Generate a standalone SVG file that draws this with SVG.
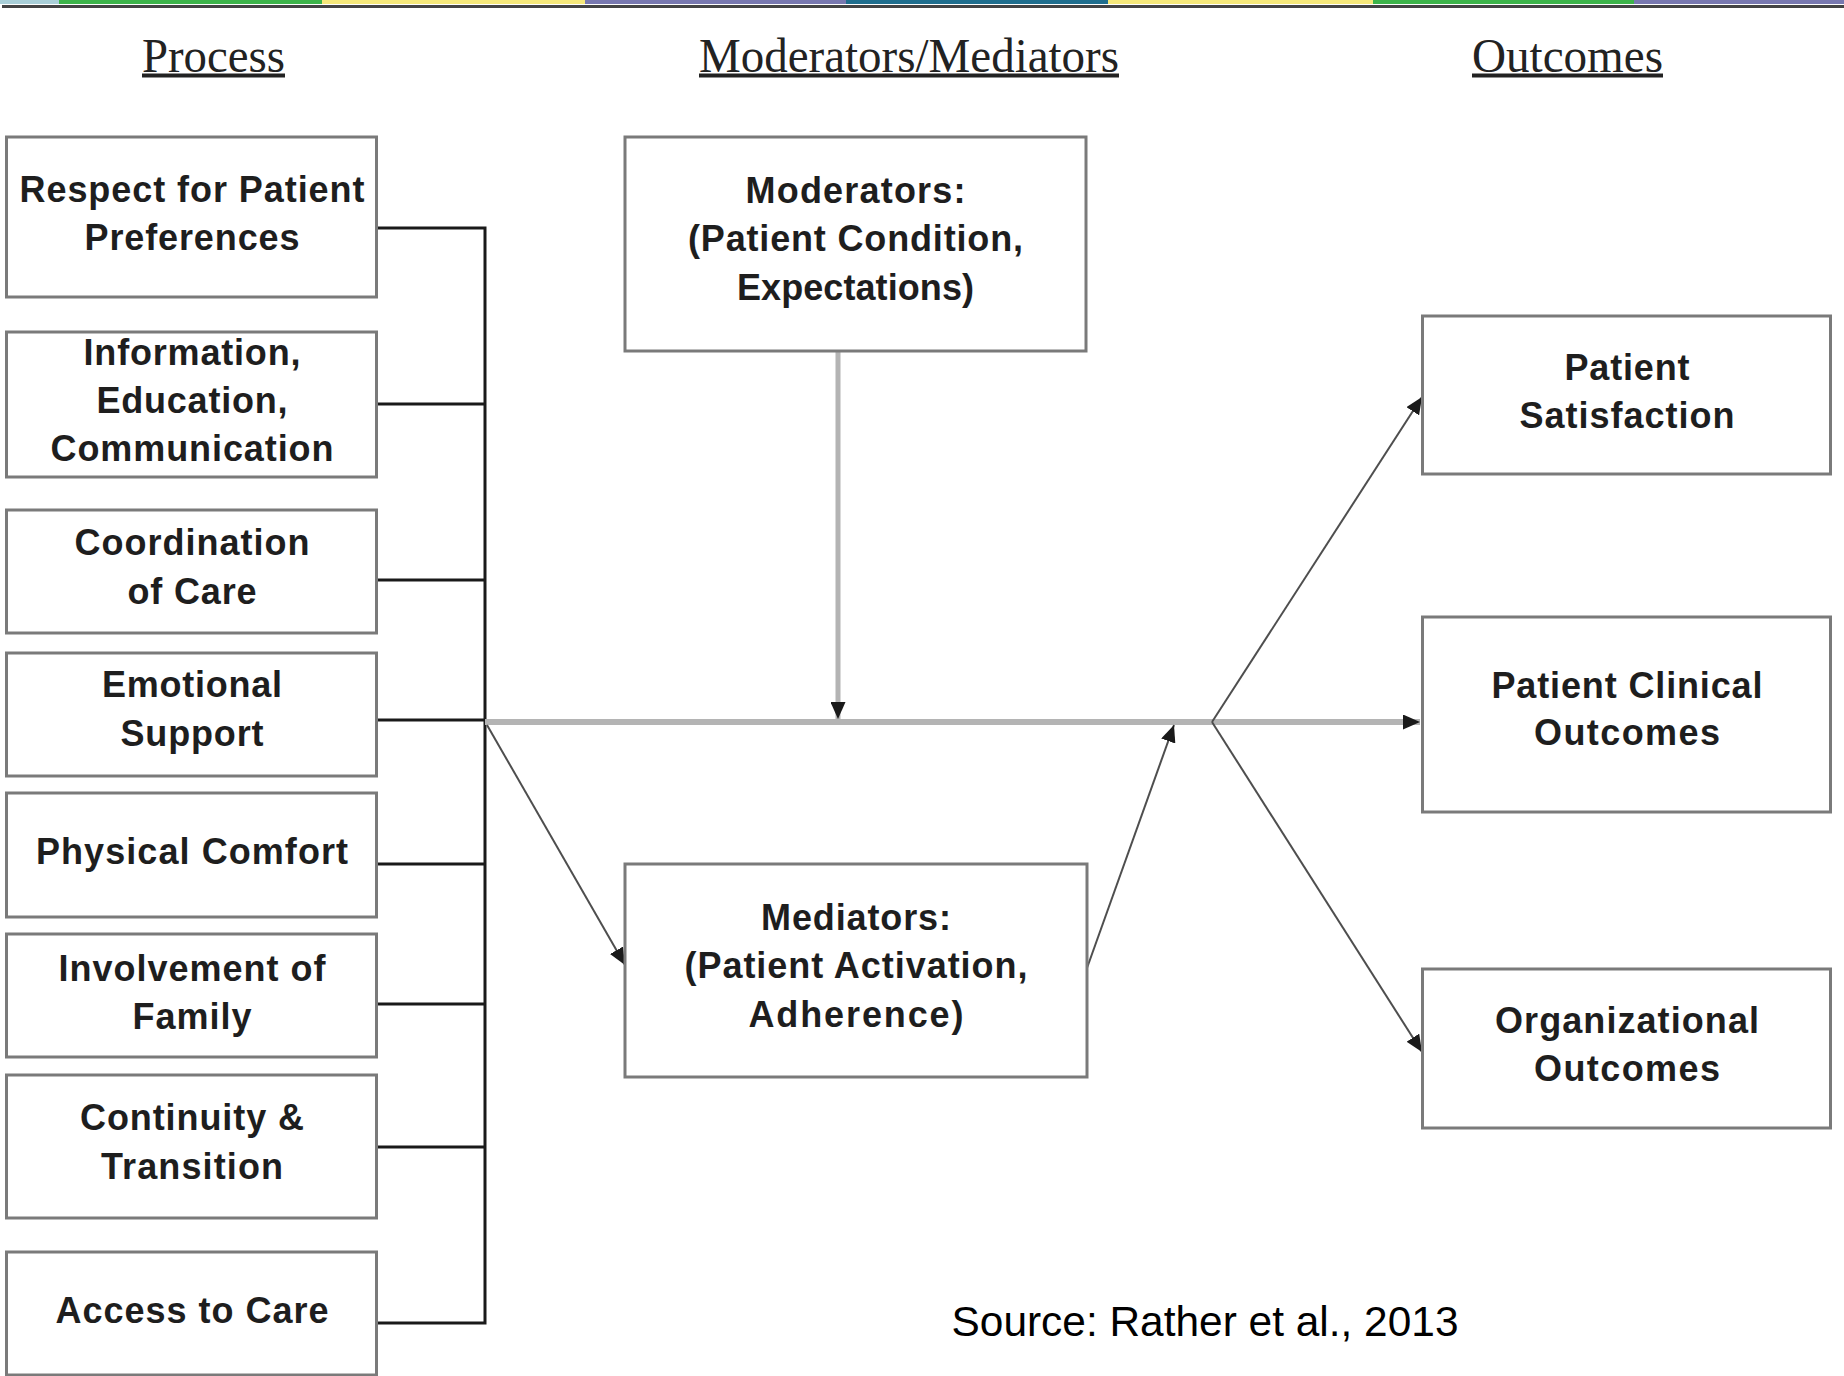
<svg xmlns="http://www.w3.org/2000/svg" width="1844" height="1376" viewBox="0 0 1844 1376">
<style>
.box{fill:#fff;stroke:#7a7a7a;stroke-width:3}
.t{font-family:"Liberation Sans",Arial,sans-serif;font-weight:bold;font-size:36px;fill:#1e1e1e;text-anchor:middle}
.h{font-family:"Liberation Serif","Times New Roman",serif;font-size:48px;fill:#222;text-anchor:middle}
.bus{stroke:#1a1a1a;stroke-width:3;fill:none}
.main{stroke:#b4b4b4;stroke-width:6;fill:none}
.vert{stroke:#b4b4b4;stroke-width:5;fill:none}
.thin{stroke:#4e4e4e;stroke-width:2;fill:none}
</style>
<defs>
<marker id="ah" markerUnits="userSpaceOnUse" markerWidth="17" markerHeight="15" refX="17" refY="7.5" orient="auto">
<path d="M0,0 L17,7.5 L0,15 z" fill="#1a1a1a"/>
</marker>
</defs>
<rect width="1844" height="1376" fill="#fff"/>
<g id="topbar">
<rect x="0" y="0" width="59" height="4" fill="#a9cfd8"/>
<rect x="59" y="0" width="263" height="4" fill="#3cb44a"/>
<rect x="322" y="0" width="263" height="4" fill="#f5e87a"/>
<rect x="585" y="0" width="261" height="4" fill="#7878b0"/>
<rect x="846" y="0" width="262" height="4" fill="#1f6e8e"/>
<rect x="1108" y="0" width="265" height="4" fill="#f5e87a"/>
<rect x="1373" y="0" width="261" height="4" fill="#3cb44a"/>
<rect x="1634" y="0" width="210" height="4" fill="#7878b0"/>
<rect x="2" y="5" width="1842" height="3" fill="#444"/>
</g>
<g id="headers">
<text class="h" x="213.5" y="72" textLength="143" lengthAdjust="spacingAndGlyphs">Process</text>
<rect x="142" y="73.5" width="143" height="4" fill="#222"/>
<text class="h" x="909" y="72" textLength="420" lengthAdjust="spacingAndGlyphs">Moderators/Mediators</text>
<rect x="699" y="73.5" width="420" height="4" fill="#222"/>
<text class="h" x="1567.5" y="72" textLength="191" lengthAdjust="spacingAndGlyphs">Outcomes</text>
<rect x="1472" y="73.5" width="191" height="4" fill="#222"/>
</g>
<g id="connectors">
<path class="bus" d="M378,228 H485 M378,404 H485 M378,580 H485 M378,720 H485 M378,864 H485 M378,1004 H485 M378,1147 H485 M378,1323 H485 M485,226.5 V1324.5"/>
<line class="main" x1="485" y1="722" x2="1420" y2="722" marker-end="url(#ah)"/>
<line class="vert" x1="838" y1="351" x2="838" y2="719" marker-end="url(#ah)"/>
<line class="thin" x1="487" y1="725" x2="625" y2="965" marker-end="url(#ah)"/>
<line class="thin" x1="1087" y1="968" x2="1174" y2="725" marker-end="url(#ah)"/>
<line class="thin" x1="1212" y1="722" x2="1422" y2="397" marker-end="url(#ah)"/>
<line class="thin" x1="1212" y1="722" x2="1422" y2="1052" marker-end="url(#ah)"/>
</g>
<g id="n1"><rect class="box" x="6.5" y="137" width="370" height="160"/>
<text class="t" x="192" y="202" textLength="345" lengthAdjust="spacing">Respect for Patient</text>
<text class="t" x="192" y="250" textLength="215" lengthAdjust="spacing">Preferences</text></g>
<g id="n2"><rect class="box" x="6.5" y="332" width="370" height="145"/>
<text class="t" x="192" y="365" textLength="217" lengthAdjust="spacing">Information,</text>
<text class="t" x="192" y="413" textLength="191" lengthAdjust="spacing">Education,</text>
<text class="t" x="192" y="461" textLength="283" lengthAdjust="spacing">Communication</text></g>
<g id="n3"><rect class="box" x="6.5" y="510" width="370" height="123"/>
<text class="t" x="192" y="555" textLength="235" lengthAdjust="spacing">Coordination</text>
<text class="t" x="192" y="604" textLength="129" lengthAdjust="spacing">of Care</text></g>
<g id="n4"><rect class="box" x="6.5" y="653" width="370" height="123"/>
<text class="t" x="192" y="697" textLength="180" lengthAdjust="spacing">Emotional</text>
<text class="t" x="192" y="746" textLength="143" lengthAdjust="spacing">Support</text></g>
<g id="n5"><rect class="box" x="6.5" y="793" width="370" height="124"/>
<text class="t" x="192" y="864" textLength="312" lengthAdjust="spacing">Physical Comfort</text></g>
<g id="n6"><rect class="box" x="6.5" y="934" width="370" height="123"/>
<text class="t" x="192" y="981" textLength="267" lengthAdjust="spacing">Involvement of</text>
<text class="t" x="192" y="1029" textLength="119" lengthAdjust="spacing">Family</text></g>
<g id="n7"><rect class="box" x="6.5" y="1075" width="370" height="143"/>
<text class="t" x="192" y="1130" textLength="224" lengthAdjust="spacing">Continuity &amp;</text>
<text class="t" x="192" y="1179" textLength="182" lengthAdjust="spacing">Transition</text></g>
<g id="n8"><rect class="box" x="6.5" y="1252" width="370" height="123"/>
<text class="t" x="192" y="1323" textLength="273" lengthAdjust="spacing">Access to Care</text></g>
<g id="moderators"><rect class="box" x="625" y="137" width="461" height="214"/>
<text class="t" x="855.5" y="203" textLength="220" lengthAdjust="spacing">Moderators:</text>
<text class="t" x="855.5" y="251" textLength="335" lengthAdjust="spacing">(Patient Condition,</text>
<text class="t" x="855.5" y="300" textLength="237" lengthAdjust="spacing">Expectations)</text></g>
<g id="mediators"><rect class="box" x="625" y="864" width="462" height="213"/>
<text class="t" x="856" y="930" textLength="190" lengthAdjust="spacing">Mediators:</text>
<text class="t" x="856" y="978" textLength="343" lengthAdjust="spacing">(Patient Activation,</text>
<text class="t" x="856" y="1027" textLength="215" lengthAdjust="spacing">Adherence)</text></g>
<g id="satisfaction"><rect class="box" x="1422.5" y="316" width="408" height="158"/>
<text class="t" x="1627" y="380" textLength="125" lengthAdjust="spacing">Patient</text>
<text class="t" x="1627" y="428" textLength="215" lengthAdjust="spacing">Satisfaction</text></g>
<g id="clinical"><rect class="box" x="1422.5" y="617" width="408" height="195"/>
<text class="t" x="1627" y="698" textLength="271" lengthAdjust="spacing">Patient Clinical</text>
<text class="t" x="1627" y="745" textLength="186" lengthAdjust="spacing">Outcomes</text></g>
<g id="organizational"><rect class="box" x="1422.5" y="969" width="408" height="159"/>
<text class="t" x="1627" y="1033" textLength="264" lengthAdjust="spacing">Organizational</text>
<text class="t" x="1627" y="1081" textLength="186" lengthAdjust="spacing">Outcomes</text></g>
<text x="1205" y="1336" font-family="'Liberation Sans',Arial,sans-serif" font-size="42" fill="#000" text-anchor="middle" textLength="507" lengthAdjust="spacingAndGlyphs">Source: Rather et al., 2013</text>
</svg>
